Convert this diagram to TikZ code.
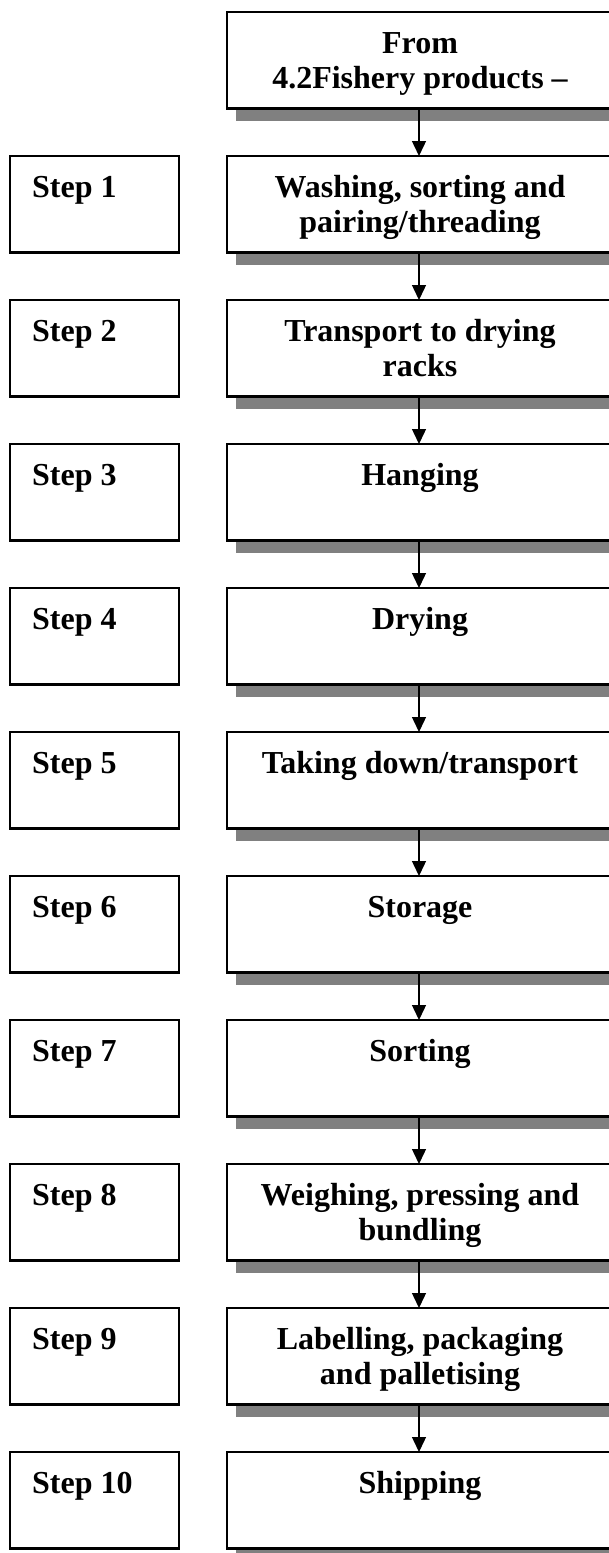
\documentclass[tikz,border=0pt]{standalone}
\usepackage{fontspec}
\setmainfont{Liberation Serif}
\usetikzlibrary{arrows.meta,shadows}
\begin{document}
\begin{tikzpicture}[x=1pt,y=-1pt,
  proc/.style={draw,line width=2.4pt,fill=white,minimum width=384pt,minimum height=96.5pt,inner sep=0pt,outer sep=0pt,
    drop shadow={shadow xshift=9pt,shadow yshift=-12.5pt,fill=black!50,opacity=1,draw=none}},
  stepbox/.style={draw,line width=2.4pt,fill=white,minimum width=169pt,minimum height=96.5pt,inner sep=0pt,outer sep=0pt},
  txt/.style={font=\bfseries\fontsize{32}{35}\selectfont,align=center,anchor=base,inner sep=0pt},
  steptxt/.style={font=\bfseries\fontsize{32}{35}\selectfont,anchor=base west,inner sep=0pt},
  flow/.style={line width=1.4pt,-{Triangle[length=15pt,width=14pt]}}]
\useasboundingbox (0,0) rectangle (609,1553);
% process boxes
\foreach \i in {0,...,10}{
  \node[proc] (b\i) at (419,{60.25+144*\i}) {};
}
% step boxes
\foreach \i in {1,...,10}{
  \node[stepbox] (s\i) at (94.5,{60.25+144*\i}) {};
  \node[steptxt] (st\i) at (32,{53+144*\i}) {Step \i};
}
% texts (two-line texts are anchored at their last baseline)
\node[txt] (t0) at (420,88) {From\\4.2Fishery products --};
\node[txt] (t1) at (420,232) {Washing, sorting and\\pairing/threading};
\node[txt] (t2) at (420,376) {Transport to drying\\racks};
\node[txt] (t3) at (420,485) {Hanging};
\node[txt] (t4) at (420,629) {Drying};
\node[txt] (t5) at (420,773) {Taking down/transport};
\node[txt] (t6) at (420,917) {Storage};
\node[txt] (t7) at (420,1061) {Sorting};
\node[txt] (t8) at (420,1240) {Weighing, pressing and\\bundling};
\node[txt] (t9) at (420,1384) {Labelling, packaging\\and palletising};
\node[txt] (t10) at (420,1493) {Shipping};
% connectors
\foreach \i [evaluate=\i as \j using int(\i+1)] in {0,...,9}{
  \draw[flow] (b\i.south) -- (b\j.north);
}
\end{tikzpicture}
\end{document}
